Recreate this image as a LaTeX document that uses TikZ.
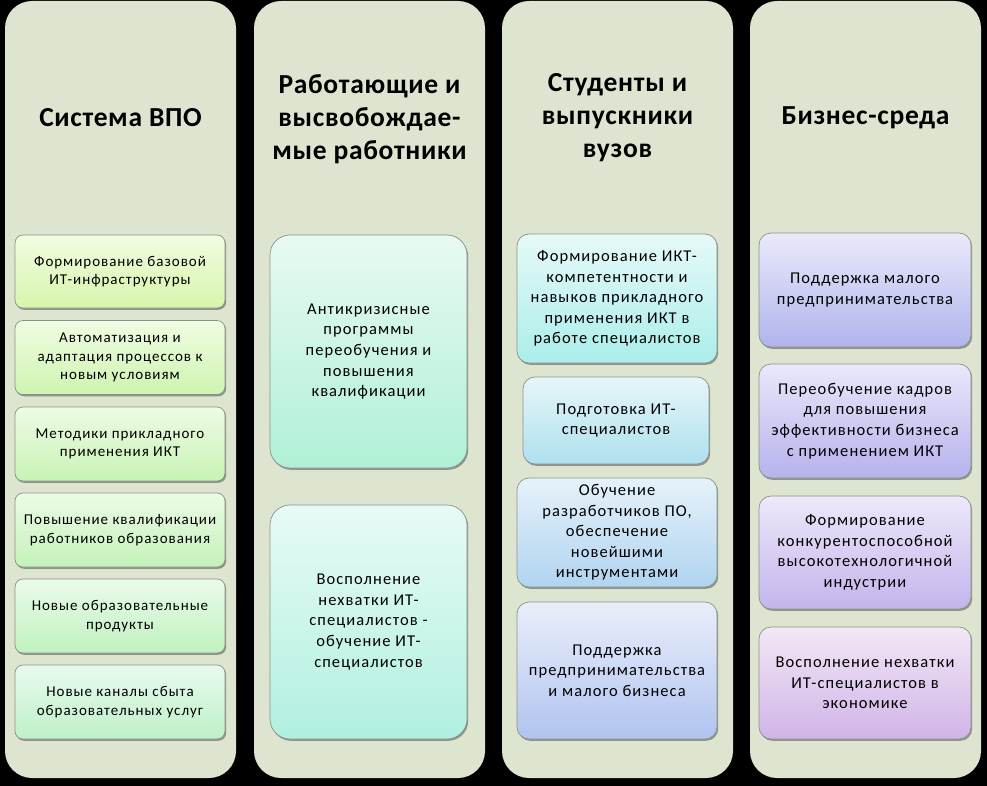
\documentclass[tikz,border=0pt]{standalone}
\usepackage{fontspec}
\setmainfont{Carlito}
\newfontfamily\boxfont[LetterSpace=6.5]{Carlito}
\newfontfamily\titlefont[LetterSpace=2.5]{Carlito}
\usetikzlibrary{shadows}
\definecolor{colbg}{HTML}{DDE4CF}
\definecolor{bordc}{HTML}{8A938A}
\tikzset{
  column/.style={fill=colbg, draw=none, rounded corners=27pt},
  title/.style={font=\titlefont\fontsize{27.5}{33}\selectfont\bfseries, align=center, text=black},
  box/.style={rectangle, draw=bordc, line width=0.7pt, align=center, inner sep=2pt,
    drop shadow={shadow xshift=1.2pt, shadow yshift=-1.8pt, opacity=0.45, fill=black!80}},
  sbox/.style={box, rounded corners=8pt, font=\boxfont\fontsize{15}{18.5}\selectfont},
  mbox/.style={box, rounded corners=12pt, font=\boxfont\fontsize{16.5}{20.6}\selectfont},
  lbox/.style={box, rounded corners=20pt, font=\boxfont\fontsize{16.5}{20.7}\selectfont},
}
\begin{document}
\begin{tikzpicture}[x=1pt,y=-1pt]
\fill[black] (0,0) rectangle (987,786);
\useasboundingbox (0,0) rectangle (987,786);
% columns
\fill[column] (5,1) rectangle (236,778);
\fill[column] (254,1) rectangle (485,778);
\fill[column] (502,1) rectangle (733,778);
\fill[column] (750,1) rectangle (981,778);
% titles
\node[title] (t1) at (120.5,118) {Система ВПО};
\node[title] (t2) at (369.5,119.5) {Работающие и\\высвобождае-\\мые работники};
\node[title] (t3) at (617.5,118) {Студенты и\\выпускники\\вузов};
\node[title] (t4) at (865.5,118) {Бизнес-среда};
% column 1
\node[sbox, minimum width=210pt, minimum height=73pt, top color={rgb,255:red,242;green,252;blue,224}, bottom color={rgb,255:red,214;green,245;blue,172}] (a1) at (120,271.5) {Формирование базовой\\ИТ-инфраструктуры};
\node[sbox, minimum width=210pt, minimum height=74pt, top color={rgb,255:red,240;green,252;blue,226}, bottom color={rgb,255:red,206;green,244;blue,176}] (a2) at (120,357.5) {Автоматизация и\\адаптация процессов к\\новым условиям};
\node[sbox, minimum width=210pt, minimum height=74pt, top color={rgb,255:red,238;green,251;blue,228}, bottom color={rgb,255:red,200;green,243;blue,180}] (a3) at (120,444) {Методики прикладного\\применения ИКТ};
\node[sbox, minimum width=210pt, minimum height=74pt, top color={rgb,255:red,236;green,251;blue,230}, bottom color={rgb,255:red,196;green,242;blue,186}] (a4) at (120,530) {Повышение квалификации\\работников образования};
\node[sbox, minimum width=210pt, minimum height=74pt, top color={rgb,255:red,234;green,251;blue,234}, bottom color={rgb,255:red,192;green,241;blue,192}] (a5) at (120,616) {Новые образовательные\\продукты};
\node[sbox, minimum width=210pt, minimum height=74pt, top color={rgb,255:red,232;green,250;blue,238}, bottom color={rgb,255:red,190;green,241;blue,200}] (a6) at (120,702) {Новые каналы сбыта\\образовательных услуг};
% column 2
\node[lbox, minimum width=197pt, minimum height=233pt, top color={rgb,255:red,232;green,250;blue,242}, bottom color={rgb,255:red,176;green,240;blue,214}] (b1) at (368.5,351.5) {Антикризисные\\программы\\переобучения и\\повышения\\квалификации};
\node[lbox, minimum width=197pt, minimum height=234pt, top color={rgb,255:red,232;green,250;blue,246}, bottom color={rgb,255:red,176;green,240;blue,224}] (b2) at (368.5,622) {Восполнение\\нехватки ИТ-\\специалистов -\\обучение ИТ-\\специалистов};
% column 3
\node[mbox, minimum width=200pt, minimum height=129pt, top color={rgb,255:red,230;green,249;blue,248}, bottom color={rgb,255:red,170;green,238;blue,234}] (c1) at (617,298.5) {Формирование ИКТ-\\компетентности и\\навыков прикладного\\применения ИКТ в\\работе специалистов};
\node[mbox, minimum width=186pt, minimum height=87pt, top color={rgb,255:red,230;green,246;blue,248}, bottom color={rgb,255:red,174;green,224;blue,238}] (c2) at (616,420.5) {Подготовка ИТ-\\специалистов};
\node[mbox, minimum width=200pt, minimum height=109pt, top color={rgb,255:red,230;green,242;blue,250}, bottom color={rgb,255:red,176;green,212;blue,240}] (c3) at (617,532.5) {Обучение\\разработчиков ПО,\\обеспечение\\новейшими\\инструментами};
\node[mbox, minimum width=200pt, minimum height=137pt, top color={rgb,255:red,234;green,238;blue,250}, bottom color={rgb,255:red,176;green,196;blue,240}] (c4) at (617,670.5) {Поддержка\\предпринимательства\\и малого бизнеса};
% column 4
\node[mbox, minimum width=212pt, minimum height=114pt, top color={rgb,255:red,234;green,234;blue,250}, bottom color={rgb,255:red,176;green,180;blue,236}] (d1) at (865,290) {Поддержка малого\\предпринимательства};
\node[mbox, minimum width=212pt, minimum height=114pt, top color={rgb,255:red,234;green,232;blue,250}, bottom color={rgb,255:red,182;green,178;blue,236}] (d2) at (865,421) {Переобучение кадров\\для повышения\\эффективности бизнеса\\с применением ИКТ};
\node[mbox, minimum width=212pt, minimum height=113pt, top color={rgb,255:red,238;green,232;blue,250}, bottom color={rgb,255:red,196;green,180;blue,236}] (d3) at (865,552.5) {Формирование\\конкурентоспособной\\высокотехнологичной\\индустрии};
\node[mbox, minimum width=212pt, minimum height=112pt, top color={rgb,255:red,242;green,232;blue,246}, bottom color={rgb,255:red,208;green,180;blue,232}] (d4) at (865,683) {Восполнение нехватки\\ИТ-специалистов в\\экономике};
\end{tikzpicture}
\end{document}
